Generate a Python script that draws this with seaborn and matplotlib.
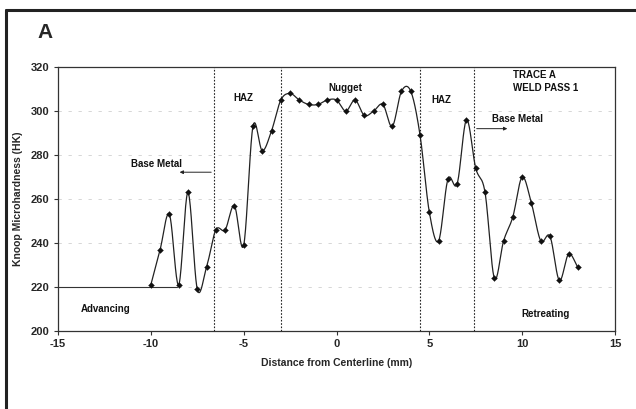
import numpy as np
import pandas as pd
import matplotlib
matplotlib.use("Agg")
import matplotlib.pyplot as plt
import seaborn as sns
from matplotlib.lines import Line2D

# ---- data ----
distance_mm = [-10, -9.5, -9, -8.5, -8, -7.5, -7, -6.5, -6, -5.5, -5, -4.5, -4, -3.5,
               -3, -2.5, -2, -1.5, -1, -0.5, 0, 0.5, 1, 1.5, 2, 2.5, 3, 3.5, 4, 4.5,
               5, 5.5, 6, 6.5, 7, 7.5, 8, 8.5, 9, 9.5, 10, 10.5, 11, 11.5, 12, 12.5, 13]
hardness_hk = [221, 237, 253, 221, 263, 219, 229, 246, 246, 257, 239, 293, 282, 291,
               305, 308, 305, 303, 303, 305, 305, 300, 305, 298, 300, 303, 293, 309, 309, 289,
               254, 241, 269, 267, 296, 274, 263, 224, 241, 252, 270, 258, 241, 243, 223, 235, 229]
zone_boundaries = [-6.6, -3.0, 4.5, 7.4]
x_ticks = [-15, -10, -5, 0, 5, 10, 15]
y_ticks = [200, 220, 240, 260, 280, 300, 320]

sns.set_theme(style="white")
plt.rcParams['font.family'] = ['Liberation Sans', 'DejaVu Sans']
plt.rcParams['axes.unicode_minus'] = False

df = pd.DataFrame({"x": distance_mm, "y": hardness_hk})

# smooth (Catmull-Rom) rendering of the line through the measured points
def catmull_rom(x, y, n=20):
    x = np.asarray(x, float); y = np.asarray(y, float)
    px = np.concatenate([[2*x[0]-x[1]], x, [2*x[-1]-x[-2]]])
    py = np.concatenate([[2*y[0]-y[1]], y, [2*y[-1]-y[-2]]])
    xs, ys = [], []
    t = np.linspace(0, 1, n, endpoint=False)
    for i in range(1, len(px)-2):
        p0, p1, p2, p3 = px[i-1], px[i], px[i+1], px[i+2]
        q0, q1, q2, q3 = py[i-1], py[i], py[i+1], py[i+2]
        for a, b, c, d, out in ((p0, p1, p2, p3, xs), (q0, q1, q2, q3, ys)):
            out.extend(0.5*((2*b) + (-a+c)*t + (2*a-5*b+4*c-d)*t**2 + (-a+3*b-3*c+d)*t**3))
    xs.append(x[-1]); ys.append(y[-1])
    return pd.DataFrame({"x": xs, "y": ys})

smooth = catmull_rom(distance_mm, hardness_hk)

fig = plt.figure(figsize=(6.36, 4.09), dpi=100)
ax = fig.add_axes([0.0912, 0.1907, 0.8758, 0.6453])

# faint gridlines
for yv in y_ticks[1:-1]:
    ax.axhline(yv, color="#d0d0d0", lw=0.6, ls=(0, (4, 8)), zorder=0)
ax.plot([-15, -8.6], [220, 220], color="#333333", lw=0.8, zorder=1)

for xb in zone_boundaries:
    ax.axvline(xb, color="#222222", lw=0.8, ls=(0, (1.5, 1.5)), zorder=1)

sns.lineplot(data=smooth, x="x", y="y", sort=False, estimator=None, color="#222222",
             lw=0.9, ax=ax, zorder=3)
sns.scatterplot(data=df, x="x", y="y", marker="D", s=9, color="#111111",
                edgecolor="#111111", ax=ax, zorder=4)

ax.set_xlim(-15, 15)
ax.set_ylim(200, 320)
ax.set_xticks(x_ticks)
ax.set_yticks(y_ticks)
ax.tick_params(axis="both", labelsize=8, length=3, width=0.8, color="#333333",
               direction="out", bottom=True, left=True, pad=3)
for lab in ax.get_xticklabels() + ax.get_yticklabels():
    lab.set_fontweight("bold")
ax.set_xlabel("Distance from Centerline (mm)", fontsize=7.5, fontweight="bold", labelpad=6)
ax.set_ylabel("Knoop Microhardness (HK)", fontsize=7.5, fontweight="bold", labelpad=6)
for s in ax.spines.values():
    s.set_color("#333333"); s.set_linewidth(0.9)

tk = dict(fontsize=7, fontweight="bold", color="#111111")
ax.text(-9.7, 276, "Base Metal", ha="center", va="center", **tk)
ax.annotate("", xy=(-8.6, 272.2), xytext=(-6.6, 272.2),
            arrowprops=dict(arrowstyle="-|>", color="#222222", lw=0.7, mutation_scale=5))
ax.text(9.75, 296.3, "Base Metal", ha="center", va="center", **tk)
ax.annotate("", xy=(9.35, 292), xytext=(7.4, 292),
            arrowprops=dict(arrowstyle="-|>", color="#222222", lw=0.7, mutation_scale=5))
ax.text(-5.0, 306, "HAZ", ha="center", va="center", **tk)
ax.text(0.45, 310.4, "Nugget", ha="center", va="center", **tk)
ax.text(5.65, 305, "HAZ", ha="center", va="center", **tk)
ax.text(9.5, 316.4, "TRACE A", ha="left", va="center", **tk)
ax.text(9.5, 310.6, "WELD PASS 1", ha="left", va="center", **tk)
ax.text(-13.8, 209.8, "Advancing", ha="left", va="center", **tk)
ax.text(9.95, 207.6, "Retreating", ha="left", va="center", **tk)

fig.text(37/636, 1-33/409, "A", fontsize=15, fontweight="bold", ha="left", va="center")
fig.add_artist(Line2D([6/636, 1], [1-9.5/409, 1-9.5/409], transform=fig.transFigure,
                      color="#222222", lw=2.2))
fig.add_artist(Line2D([6/636, 6/636], [0, 1-9.5/409], transform=fig.transFigure,
                      color="#222222", lw=2.2))

fig.savefig("out.png", dpi=100)
